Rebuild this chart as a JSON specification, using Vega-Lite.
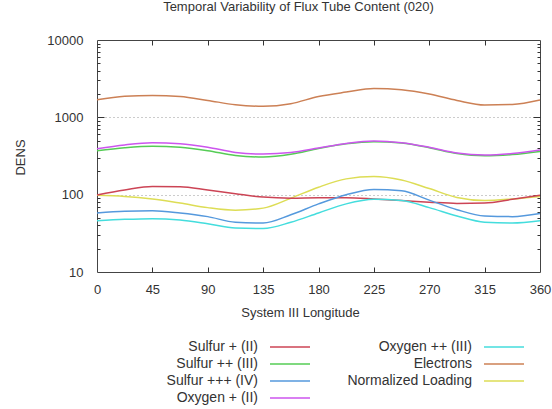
{
  "$schema": "https://vega.github.io/schema/vega-lite/v6.json",
  "autosize": {"type": "none"},
  "padding": {"left": 97, "top": 40, "right": 12, "bottom": 137},
  "width": 443,
  "height": 232,
  "background": "white",
  "title": {"text": "Temporal Variability of Flux Tube Content (020)", "frame": "group", "anchor": "middle", "dx": -20, "offset": 20, "fontSize": 13, "fontWeight": "normal", "font": "Liberation Sans", "color": "#333"},
  "config": {
    "view": {"stroke": "#444", "strokeWidth": 1},
    "axis": {"labelFont": "Liberation Sans", "titleFont": "Liberation Sans", "labelFontSize": 13, "titleFontSize": 13, "titleFontWeight": "normal", "labelColor": "#333", "titleColor": "#333", "tickColor": "#333", "tickWidth": 1, "domain": false, "grid": false},
    "legend": {"labelFont": "Liberation Sans", "labelFontSize": 14, "labelColor": "#333"}
  },
  "data": {"values": [
    {"lon": 0, "series": "Electrons", "value": 1690},
    {"lon": 22.5, "series": "Electrons", "value": 1880},
    {"lon": 45, "series": "Electrons", "value": 1920},
    {"lon": 67.5, "series": "Electrons", "value": 1860},
    {"lon": 90, "series": "Electrons", "value": 1655},
    {"lon": 112.5, "series": "Electrons", "value": 1455},
    {"lon": 135, "series": "Electrons", "value": 1390},
    {"lon": 157.5, "series": "Electrons", "value": 1500},
    {"lon": 180, "series": "Electrons", "value": 1860},
    {"lon": 202.5, "series": "Electrons", "value": 2120},
    {"lon": 225, "series": "Electrons", "value": 2360},
    {"lon": 247.5, "series": "Electrons", "value": 2270},
    {"lon": 270, "series": "Electrons", "value": 2000},
    {"lon": 292.5, "series": "Electrons", "value": 1655},
    {"lon": 315, "series": "Electrons", "value": 1445},
    {"lon": 337.5, "series": "Electrons", "value": 1470},
    {"lon": 360, "series": "Electrons", "value": 1680},

    {"lon": 0, "series": "Sulfur ++ (III)", "value": 370},
    {"lon": 22.5, "series": "Sulfur ++ (III)", "value": 405},
    {"lon": 45, "series": "Sulfur ++ (III)", "value": 424},
    {"lon": 67.5, "series": "Sulfur ++ (III)", "value": 410},
    {"lon": 90, "series": "Sulfur ++ (III)", "value": 370},
    {"lon": 112.5, "series": "Sulfur ++ (III)", "value": 322},
    {"lon": 135, "series": "Sulfur ++ (III)", "value": 307},
    {"lon": 157.5, "series": "Sulfur ++ (III)", "value": 332},
    {"lon": 180, "series": "Sulfur ++ (III)", "value": 395},
    {"lon": 202.5, "series": "Sulfur ++ (III)", "value": 455},
    {"lon": 225, "series": "Sulfur ++ (III)", "value": 485},
    {"lon": 247.5, "series": "Sulfur ++ (III)", "value": 465},
    {"lon": 270, "series": "Sulfur ++ (III)", "value": 405},
    {"lon": 292.5, "series": "Sulfur ++ (III)", "value": 340},
    {"lon": 315, "series": "Sulfur ++ (III)", "value": 318},
    {"lon": 337.5, "series": "Sulfur ++ (III)", "value": 330},
    {"lon": 360, "series": "Sulfur ++ (III)", "value": 362},

    {"lon": 0, "series": "Oxygen + (II)", "value": 392},
    {"lon": 22.5, "series": "Oxygen + (II)", "value": 440},
    {"lon": 45, "series": "Oxygen + (II)", "value": 469},
    {"lon": 67.5, "series": "Oxygen + (II)", "value": 455},
    {"lon": 90, "series": "Oxygen + (II)", "value": 410},
    {"lon": 112.5, "series": "Oxygen + (II)", "value": 352},
    {"lon": 135, "series": "Oxygen + (II)", "value": 335},
    {"lon": 157.5, "series": "Oxygen + (II)", "value": 350},
    {"lon": 180, "series": "Oxygen + (II)", "value": 400},
    {"lon": 202.5, "series": "Oxygen + (II)", "value": 460},
    {"lon": 225, "series": "Oxygen + (II)", "value": 495},
    {"lon": 247.5, "series": "Oxygen + (II)", "value": 470},
    {"lon": 270, "series": "Oxygen + (II)", "value": 410},
    {"lon": 292.5, "series": "Oxygen + (II)", "value": 345},
    {"lon": 315, "series": "Oxygen + (II)", "value": 325},
    {"lon": 337.5, "series": "Oxygen + (II)", "value": 340},
    {"lon": 360, "series": "Oxygen + (II)", "value": 378},

    {"lon": 0, "series": "Normalized Loading", "value": 98},
    {"lon": 22.5, "series": "Normalized Loading", "value": 95},
    {"lon": 45, "series": "Normalized Loading", "value": 88},
    {"lon": 67.5, "series": "Normalized Loading", "value": 78},
    {"lon": 90, "series": "Normalized Loading", "value": 68},
    {"lon": 112.5, "series": "Normalized Loading", "value": 63},
    {"lon": 135, "series": "Normalized Loading", "value": 67},
    {"lon": 157.5, "series": "Normalized Loading", "value": 90},
    {"lon": 180, "series": "Normalized Loading", "value": 125},
    {"lon": 202.5, "series": "Normalized Loading", "value": 160},
    {"lon": 225, "series": "Normalized Loading", "value": 172},
    {"lon": 247.5, "series": "Normalized Loading", "value": 155},
    {"lon": 270, "series": "Normalized Loading", "value": 120},
    {"lon": 292.5, "series": "Normalized Loading", "value": 92},
    {"lon": 315, "series": "Normalized Loading", "value": 84},
    {"lon": 337.5, "series": "Normalized Loading", "value": 88},
    {"lon": 360, "series": "Normalized Loading", "value": 95},

    {"lon": 0, "series": "Sulfur + (II)", "value": 99},
    {"lon": 22.5, "series": "Sulfur + (II)", "value": 115},
    {"lon": 45, "series": "Sulfur + (II)", "value": 128},
    {"lon": 67.5, "series": "Sulfur + (II)", "value": 127},
    {"lon": 90, "series": "Sulfur + (II)", "value": 115},
    {"lon": 112.5, "series": "Sulfur + (II)", "value": 103},
    {"lon": 135, "series": "Sulfur + (II)", "value": 93},
    {"lon": 157.5, "series": "Sulfur + (II)", "value": 90},
    {"lon": 180, "series": "Sulfur + (II)", "value": 91},
    {"lon": 202.5, "series": "Sulfur + (II)", "value": 91},
    {"lon": 225, "series": "Sulfur + (II)", "value": 88},
    {"lon": 247.5, "series": "Sulfur + (II)", "value": 84},
    {"lon": 270, "series": "Sulfur + (II)", "value": 80},
    {"lon": 292.5, "series": "Sulfur + (II)", "value": 77},
    {"lon": 315, "series": "Sulfur + (II)", "value": 78},
    {"lon": 337.5, "series": "Sulfur + (II)", "value": 87},
    {"lon": 360, "series": "Sulfur + (II)", "value": 98},

    {"lon": 0, "series": "Sulfur +++ (IV)", "value": 58},
    {"lon": 22.5, "series": "Sulfur +++ (IV)", "value": 61},
    {"lon": 45, "series": "Sulfur +++ (IV)", "value": 62},
    {"lon": 67.5, "series": "Sulfur +++ (IV)", "value": 58},
    {"lon": 90, "series": "Sulfur +++ (IV)", "value": 52},
    {"lon": 112.5, "series": "Sulfur +++ (IV)", "value": 44},
    {"lon": 135, "series": "Sulfur +++ (IV)", "value": 43},
    {"lon": 157.5, "series": "Sulfur +++ (IV)", "value": 55},
    {"lon": 180, "series": "Sulfur +++ (IV)", "value": 76},
    {"lon": 202.5, "series": "Sulfur +++ (IV)", "value": 100},
    {"lon": 225, "series": "Sulfur +++ (IV)", "value": 117},
    {"lon": 247.5, "series": "Sulfur +++ (IV)", "value": 112},
    {"lon": 270, "series": "Sulfur +++ (IV)", "value": 85},
    {"lon": 292.5, "series": "Sulfur +++ (IV)", "value": 64},
    {"lon": 315, "series": "Sulfur +++ (IV)", "value": 53},
    {"lon": 337.5, "series": "Sulfur +++ (IV)", "value": 52},
    {"lon": 360, "series": "Sulfur +++ (IV)", "value": 57},

    {"lon": 0, "series": "Oxygen ++ (III)", "value": 46},
    {"lon": 22.5, "series": "Oxygen ++ (III)", "value": 48},
    {"lon": 45, "series": "Oxygen ++ (III)", "value": 49},
    {"lon": 67.5, "series": "Oxygen ++ (III)", "value": 47},
    {"lon": 90, "series": "Oxygen ++ (III)", "value": 42},
    {"lon": 112.5, "series": "Oxygen ++ (III)", "value": 37},
    {"lon": 135, "series": "Oxygen ++ (III)", "value": 36.5},
    {"lon": 157.5, "series": "Oxygen ++ (III)", "value": 44},
    {"lon": 180, "series": "Oxygen ++ (III)", "value": 58},
    {"lon": 202.5, "series": "Oxygen ++ (III)", "value": 76},
    {"lon": 225, "series": "Oxygen ++ (III)", "value": 87},
    {"lon": 247.5, "series": "Oxygen ++ (III)", "value": 84},
    {"lon": 270, "series": "Oxygen ++ (III)", "value": 68},
    {"lon": 292.5, "series": "Oxygen ++ (III)", "value": 53},
    {"lon": 315, "series": "Oxygen ++ (III)", "value": 44},
    {"lon": 337.5, "series": "Oxygen ++ (III)", "value": 43},
    {"lon": 360, "series": "Oxygen ++ (III)", "value": 46}
  ]},
  "resolve": {"axis": {"x": "independent", "y": "independent"}},
  "layer": [
    {
      "mark": {"type": "line", "interpolate": "monotone", "strokeWidth": 1.5},
      "encoding": {
        "x": {"field": "lon", "type": "quantitative", "scale": {"domain": [0, 360], "nice": false},
          "axis": {"orient": "bottom", "title": "System III Longitude", "values": [0, 45, 90, 135, 180, 225, 270, 315, 360], "ticks": false, "labelPadding": 11, "labelFlush": false, "titleX": 203, "titleY": 40, "titleBaseline": "middle", "titleAlign": "center", "titleAnchor": null}},
        "y": {"field": "value", "type": "quantitative", "scale": {"type": "log", "domain": [10, 10000], "nice": false},
          "axis": {"orient": "left", "title": "DENS", "format": "d", "labelOverlap": false, "ticks": false,
            "values": [10, 100, 1000, 10000], "labelPadding": 14,
            "grid": true, "gridDash": [1, 3], "gridColor": "#999",
            "gridOpacity": {"condition": {"test": "datum.value == 100 || datum.value == 1000", "value": 1}, "value": 0},
            "titleX": -77, "titleY": 117, "titleBaseline": "middle", "titleAlign": "center", "titleAnchor": null}},
        "color": {"field": "series", "type": "nominal",
          "scale": {"domain": ["Sulfur + (II)", "Sulfur ++ (III)", "Sulfur +++ (IV)", "Oxygen + (II)", "Oxygen ++ (III)", "Electrons", "Normalized Loading"],
            "range": ["#cc4455", "#55cc55", "#5599dd", "#cc55ee", "#44dddd", "#cc8055", "#dddd55"]},
          "legend": {"title": null, "orient": "none", "legendX": 184, "legendY": 298, "columns": 2, "symbolType": "M-2.5,0H2.5", "symbolSize": 256, "symbolStrokeWidth": 1.5, "labelAlign": "right", "labelOffset": -41, "columnPadding": 34, "rowPadding": 1}}
      }
    },
    {
      "mark": {"type": "line", "opacity": 0},
      "encoding": {
        "x": {"field": "lon", "type": "quantitative", "scale": {"domain": [0, 360], "nice": false},
          "axis": {"orient": "bottom", "title": null, "labels": false, "ticks": true, "values": [45, 90, 135, 180, 225, 270, 315], "tickSize": 5, "offset": -5}},
        "y": {"field": "value", "type": "quantitative", "scale": {"type": "log", "domain": [10, 10000], "nice": false},
          "axis": {"orient": "left", "title": null, "labels": false, "ticks": true, "values": [100, 1000], "tickSize": 7, "offset": -7}},
        "detail": {"field": "series", "type": "nominal"}
      }
    },
    {
      "mark": {"type": "line", "opacity": 0},
      "encoding": {
        "x": {"field": "lon", "type": "quantitative", "scale": {"domain": [0, 360], "nice": false},
          "axis": {"orient": "top", "title": null, "labels": false, "ticks": true, "values": [45, 90, 135, 180, 225, 270, 315], "tickSize": 5, "offset": -5}},
        "y": {"field": "value", "type": "quantitative", "scale": {"type": "log", "domain": [10, 10000], "nice": false},
          "axis": {"orient": "left", "title": null, "labels": false, "ticks": true, "values": [20, 30, 40, 50, 60, 70, 80, 90, 200, 300, 400, 500, 600, 700, 800, 900, 2000, 3000, 4000, 5000, 6000, 7000, 8000, 9000], "tickSize": 3, "offset": -3}},
        "detail": {"field": "series", "type": "nominal"}
      }
    },
    {
      "mark": {"type": "line", "opacity": 0},
      "encoding": {
        "x": {"field": "lon", "type": "quantitative", "scale": {"domain": [0, 360], "nice": false}, "axis": null},
        "y": {"field": "value", "type": "quantitative", "scale": {"type": "log", "domain": [10, 10000], "nice": false},
          "axis": {"orient": "right", "title": null, "labels": false, "ticks": true, "values": [100, 1000], "tickSize": 7, "offset": -7}},
        "detail": {"field": "series", "type": "nominal"}
      }
    },
    {
      "mark": {"type": "line", "opacity": 0},
      "encoding": {
        "x": {"field": "lon", "type": "quantitative", "scale": {"domain": [0, 360], "nice": false}, "axis": null},
        "y": {"field": "value", "type": "quantitative", "scale": {"type": "log", "domain": [10, 10000], "nice": false},
          "axis": {"orient": "right", "title": null, "labels": false, "ticks": true, "values": [20, 30, 40, 50, 60, 70, 80, 90, 200, 300, 400, 500, 600, 700, 800, 900, 2000, 3000, 4000, 5000, 6000, 7000, 8000, 9000], "tickSize": 3, "offset": -3}},
        "detail": {"field": "series", "type": "nominal"}
      }
    }
  ]
}
